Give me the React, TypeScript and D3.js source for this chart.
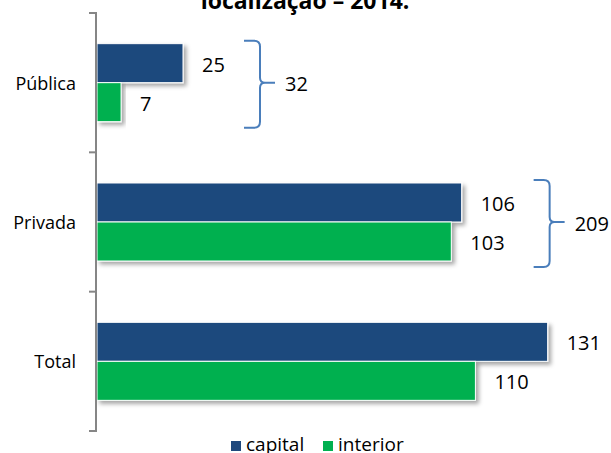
import React from "react";
import * as d3 from "d3";

const categories = ["Pública", "Privada", "Total"];
const seriesNames = ["capital", "interior"];
const capitalValues = [25, 106, 131];
const interiorValues = [7, 103, 110];
const bracketCategories = ["Pública", "Privada"];
const bracketTotals = [32, 209];
const titleText = "localização – 2014.";

const W = 611;
const H = 453;
const COLORS: Record<string, string> = { capital: "#1F497D", interior: "#00B050" };
const FONT = "'Open Sans', 'Noto Sans', sans-serif";

export default function App() {
  const x = d3.scaleLinear().domain([0, 140]).range([97, 578.6]);
  const y = d3
    .scaleBand<string>()
    .domain(categories)
    .range([13, 431])
    .paddingInner(0.44)
    .paddingOuter(0.22);
  const ySub = d3.scaleBand<string>().domain(seriesNames).range([0, y.bandwidth()]);
  const step = y.step();
  const tickYs = d3.range(categories.length + 1).map((i) => 13 + i * step);

  const rows = categories.map((c, i) => ({
    cat: c,
    values: { capital: capitalValues[i], interior: interiorValues[i] } as Record<string, number>,
  }));

  const braceFor = (cat: string) => {
    const r = rows.find((d) => d.cat === cat)!;
    const maxV = Math.max(r.values.capital, r.values.interior);
    // brace sits after the longest bar's value label
    const L = x(maxV) + 39 + String(maxV).length * 11;
    const V = L + 16;
    const top = y(cat)! - 3;
    const bot = y(cat)! + y.bandwidth() + 6;
    const mid = y(cat)! + y.bandwidth() / 2;
    const d =
      `M${L},${top} L${V - 6},${top} Q${V},${top} ${V},${top + 6} L${V},${mid - 5} Q${V},${mid} ${V + 5},${mid} ` +
      `M${V + 5},${mid} Q${V},${mid} ${V},${mid + 5} L${V},${bot - 6} Q${V},${bot} ${V - 6},${bot} L${L},${bot} ` +
      `M${V + 4},${mid} L${V + 15},${mid}`;
    return { d, labelX: V + 25, mid };
  };

  return (
    <svg
      width={W}
      height={H}
      style={{ position: "absolute", left: 0, top: 0, background: "#fff" }}
      fontFamily={FONT}
    >
      <defs>
        <filter id="shadow" x="-10%" y="-20%" width="130%" height="160%">
          <feDropShadow dx="3" dy="3" stdDeviation="2" floodColor="#000" floodOpacity="0.35" />
        </filter>
      </defs>
      <rect x={0} y={0} width={W} height={H} fill="#fff" />

      <text x={305} y={9} textAnchor="middle" fontWeight="bold" fontSize={23} fill="#000">
        {titleText}
      </text>

      {/* bars */}
      {rows.map((r) =>
        seriesNames.map((s) => (
          <rect
            key={r.cat + s}
            x={x(0)}
            y={y(r.cat)! + ySub(s)!}
            width={x(r.values[s]) - x(0)}
            height={ySub.bandwidth()}
            fill={COLORS[s]}
            stroke="#fff"
            strokeWidth={1}
            filter="url(#shadow)"
          />
        ))
      )}

      {/* value labels */}
      {rows.map((r) =>
        seriesNames.map((s) => (
          <text
            key={"l" + r.cat + s}
            x={x(r.values[s]) + 19}
            y={y(r.cat)! + ySub(s)! + ySub.bandwidth() / 2 + 1}
            dominantBaseline="central"
            fontSize={20}
            fill="#000"
          >
            {r.values[s]}
          </text>
        ))
      )}

      {/* axis */}
      <line x1={96} x2={96} y1={13} y2={431} stroke="#868686" strokeWidth={2} />
      {tickYs.map((t, i) => (
        <line key={i} x1={89} x2={97} y1={t} y2={t} stroke="#868686" strokeWidth={2} />
      ))}
      {categories.map((c) => (
        <text
          key={c}
          x={76}
          y={y(c)! + y.bandwidth() / 2}
          textAnchor="end"
          dominantBaseline="central"
          fontSize={18}
          fill="#000"
        >
          {c}
        </text>
      ))}

      {/* braces */}
      {bracketCategories.map((c, i) => {
        const b = braceFor(c);
        return (
          <g key={"b" + c}>
            <path d={b.d} fill="none" stroke="#4A7EBB" strokeWidth={2} />
            <text x={b.labelX} y={b.mid + 1} dominantBaseline="central" fontSize={20} fill="#000">
              {bracketTotals[i]}
            </text>
          </g>
        );
      })}

      {/* legend */}
      {seriesNames.map((s, i) => {
        const lx = i === 0 ? 231 : 323;
        return (
          <g key={"lg" + s}>
            <rect x={lx} y={441} width={10} height={10} fill={COLORS[s]} />
            <text x={lx + 15} y={451} fontSize={19} fill="#000">
              {s}
            </text>
          </g>
        );
      })}
    </svg>
  );
}
